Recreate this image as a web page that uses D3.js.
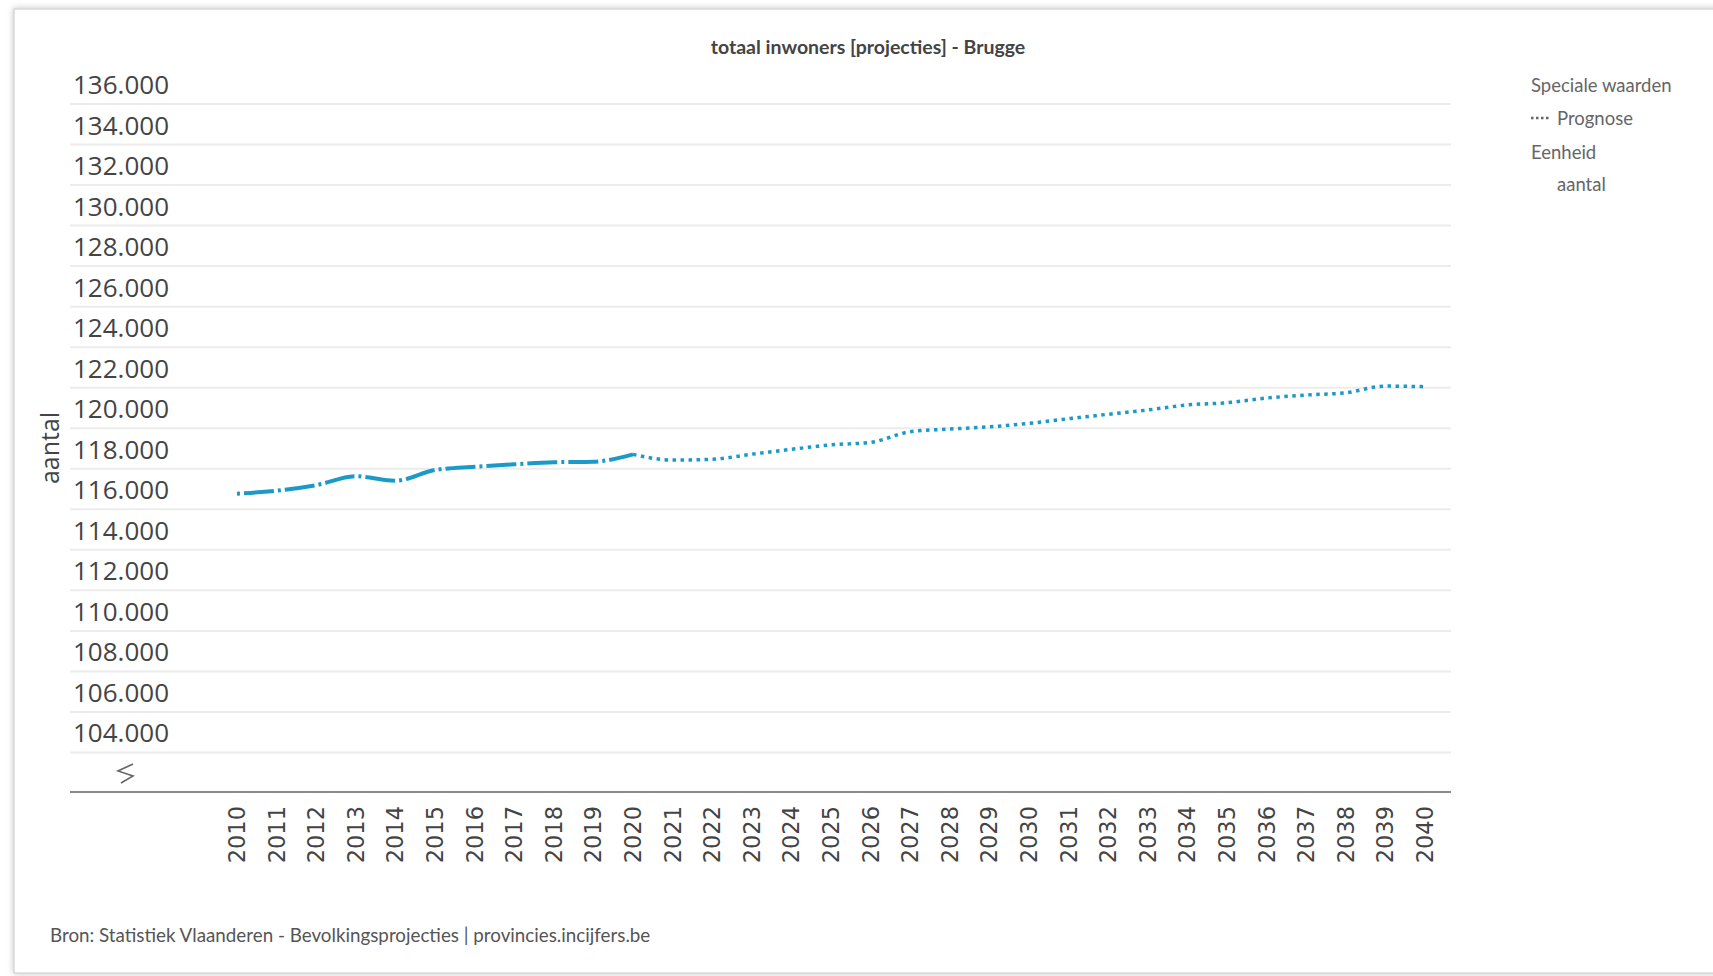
<!DOCTYPE html>
<html>
<head>
<meta charset="utf-8">
<script src="https://cdn.jsdelivr.net/npm/d3@7"></script>
<style>
  body { margin: 0; background: #fff; }
  svg text { fill: #444; }
</style>
</head>
<body>
<div id="chart"></div>
<script>
// data
var years = d3.range(2010, 2041);
var inwoners = [116770, 116920, 117190, 117630, 117410, 117940, 118100, 118220, 118320, 118350,
  118710, 118430, 118470, 118720, 118960, 119180, 119300, 119830, 119960, 120070,
  120240, 120470, 120690, 120900, 121150, 121260, 121490, 121640, 121750, 122080, 122050];
var lastObserved = 2020;
var yTicks = d3.range(104000, 136001, 2000);

var width = 1713, height = 976;
var lineColor = "#1b9ac7";
var fmt = function(v) { return d3.format(",")(v).replace(/,/g, "."); };

var svg = d3.select("#chart").append("svg")
    .attr("width", width)
    .attr("height", height);

// card with a soft edge
var defs = svg.append("defs");
var f = defs.append("filter").attr("id", "shadow").attr("x", -0.05).attr("y", -0.05).attr("width", 1.1).attr("height", 1.1);
f.append("feDropShadow").attr("dx", 0).attr("dy", 0).attr("stdDeviation", 3).attr("flood-color", "#000").attr("flood-opacity", 0.25);

svg.append("rect")
    .attr("x", 14).attr("y", 9)
    .attr("width", 1740).attr("height", 964)
    .attr("fill", "#fff")
    .attr("stroke", "#c8c8c8")
    .attr("filter", "url(#shadow)");

var x = d3.scaleLinear().domain([2010, 2040]).range([237, 1425]);
var y = d3.scaleLinear().domain([102000, 136000]).range([793, 104]);

// title
svg.append("text")
    .attr("x", 868).attr("y", 54)
    .attr("text-anchor", "middle")
    .style("font-family", "Lato, 'Noto Sans', sans-serif")
    .style("font-size", "19.5px")
    .style("font-weight", "bold")
    .text("totaal inwoners [projecties] - Brugge");

// grid lines + y labels
svg.append("g").selectAll("line")
    .data(yTicks)
    .enter().append("line")
    .attr("x1", 70).attr("x2", 1451)
    .attr("y1", (d) => y(d)).attr("y2", (d) => y(d))
    .attr("stroke", "#ececec")
    .attr("stroke-width", 2);

svg.append("g").selectAll("text")
    .data(yTicks)
    .enter().append("text")
    .attr("x", 73)
    .attr("y", (d) => y(d) - 10)
    .style("font-family", "'Open Sans', sans-serif")
    .style("font-size", "26px")
    .text((d) => fmt(d));

// x axis line and break symbol
svg.append("line")
    .attr("x1", 70).attr("x2", 1451)
    .attr("y1", 792).attr("y2", 792)
    .attr("stroke", "#8a8a8a")
    .attr("stroke-width", 2);

svg.append("path")
    .attr("d", "M133,764 L118,771 L133,776 L121,783")
    .attr("fill", "none")
    .attr("stroke", "#666")
    .attr("stroke-width", 1.6);

// x tick labels, rotated
svg.append("g").selectAll("text")
    .data(years)
    .enter().append("text")
    .attr("transform", (d) => "translate(" + (x(d) + 8) + ",806) rotate(-90)")
    .attr("text-anchor", "end")
    .style("font-family", "'DejaVu Sans', sans-serif")
    .style("font-size", "22.5px")
    .text((d) => d);

// y axis title
svg.append("text")
    .attr("transform", "translate(59,448) rotate(-90)")
    .attr("text-anchor", "middle")
    .style("font-family", "'Open Sans', sans-serif")
    .style("font-size", "25px")
    .text("aantal");

// lines
var line = d3.line()
    .x((d) => x(d.year))
    .y((d) => y(d.value))
    .curve(d3.curveMonotoneX);

var points = years.map((yr, i) => ({year: yr, value: inwoners[i]}));
var observed = points.filter((d) => d.year <= lastObserved);
var forecast = points.filter((d) => d.year >= lastObserved);

svg.append("path")
    .datum(observed)
    .attr("d", line)
    .attr("fill", "none")
    .attr("stroke", lineColor)
    .attr("stroke-width", 4)
    .attr("stroke-dasharray", "3,4,30,4");

svg.append("path")
    .datum(forecast)
    .attr("d", line)
    .attr("fill", "none")
    .attr("stroke", lineColor)
    .attr("stroke-width", 3.5)
    .attr("stroke-dasharray", "3.5,4.5");

// legend
var legend = svg.append("g")
    .style("font-family", "Lato, 'Noto Sans', sans-serif")
    .style("font-size", "18.5px");

legend.append("text").attr("x", 1531).attr("y", 92).style("fill", "#666").text("Speciale waarden");
legend.append("line")
    .attr("x1", 1531).attr("x2", 1549)
    .attr("y1", 118).attr("y2", 118)
    .attr("stroke", "#666")
    .attr("stroke-width", 2.5)
    .attr("stroke-dasharray", "2.5,2.5");
legend.append("text").attr("x", 1557).attr("y", 125).style("fill", "#666").text("Prognose");
legend.append("text").attr("x", 1531).attr("y", 159).style("fill", "#666").text("Eenheid");
legend.append("text").attr("x", 1557).attr("y", 191).style("fill", "#666").text("aantal");

// source
svg.append("text")
    .attr("x", 50).attr("y", 942)
    .style("font-family", "Lato, 'Noto Sans', sans-serif")
    .style("font-size", "18.8px")
    .style("fill", "#555")
    .text("Bron: Statistiek Vlaanderen - Bevolkingsprojecties | provincies.incijfers.be");
</script>
</body>
</html>
